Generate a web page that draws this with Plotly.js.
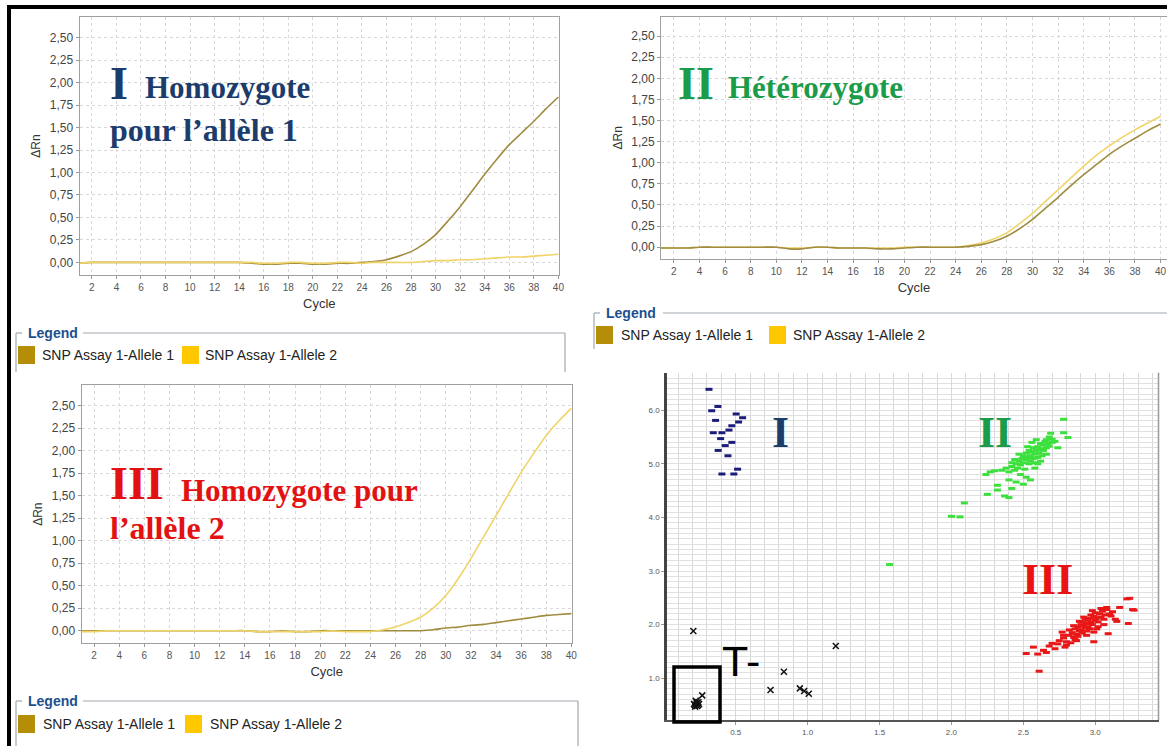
<!DOCTYPE html>
<html>
<head>
<meta charset="utf-8">
<script src="https://cdn.plot.ly/plotly-3.0.1.min.js"></script>
<style>html,body{margin:0;padding:0;background:#fff;}#chart{width:1167px;height:746px;}</style>
</head>
<body>
<div id="chart"></div>
<script>
// ---------- DATA ----------
const cycles = [1,2,3,4,5,6,7,8,9,10,11,12,13,14,15,16,17,18,19,20,21,22,23,24,25,26,27,28,29,30,31,32,33,34,35,36,37,38,39,40];

// Panel I : homozygote allele 1
const p1Allele1 = [-0.01,0,0,0,0,0,0,0,0,0,0,0,0,0,-0.01,-0.02,-0.02,-0.01,-0.01,-0.02,-0.02,-0.01,-0.01,0,0.01,0.03,0.07,0.12,0.20,0.31,0.46,0.62,0.80,0.98,1.15,1.31,1.44,1.57,1.71,1.84];
const p1Allele2 = [-0.01,0,0,0,0,0,0,0,0,0,0,0,0,0,0,-0.01,-0.01,0,0,-0.01,-0.01,0,0,-0.01,0,0,0,0,0.01,0.02,0.02,0.03,0.03,0.04,0.05,0.06,0.06,0.07,0.08,0.09];

// Panel II : heterozygote
const p2Allele1 = [-0.01,-0.01,-0.01,0,0,0,0,0,0,0,-0.02,-0.02,0,0,-0.01,-0.01,-0.01,-0.02,-0.02,-0.01,0,0,0,0,0.01,0.03,0.07,0.13,0.22,0.33,0.46,0.59,0.73,0.86,0.98,1.10,1.20,1.29,1.38,1.46];
const p2Allele2 = [-0.01,-0.01,-0.01,0,0,0,0,0,0,0,-0.01,-0.01,0,0,-0.01,-0.01,-0.01,-0.01,-0.01,0,0,0,0,0,0.02,0.05,0.10,0.17,0.28,0.40,0.54,0.68,0.82,0.96,1.09,1.20,1.30,1.39,1.47,1.55];

// Panel III : homozygote allele 2
const p3Allele1 = [0,0,0,0,0,0,0,0,0,0,0,0,0,0,-0.01,-0.01,0,-0.01,-0.01,0,0,0,0,0,0,0,0,0,0.01,0.03,0.04,0.06,0.07,0.09,0.11,0.13,0.15,0.17,0.18,0.19];
const p3Allele2 = [-0.01,-0.01,0,0,0,0,0,0,0,0,0,0,0,0,-0.01,-0.01,-0.01,-0.01,-0.01,-0.01,0,-0.01,-0.01,-0.01,0.01,0.04,0.09,0.15,0.25,0.39,0.58,0.80,1.04,1.28,1.52,1.76,1.97,2.17,2.33,2.47];

const seriesNames = ["SNP Assay 1-Allele 1","SNP Assay 1-Allele 2"];
const dRnTickVals = [0,0.25,0.5,0.75,1,1.25,1.5,1.75,2,2.25,2.5];
const dRnTickText = ["0,00","0,25","0,50","0,75","1,00","1,25","1,50","1,75","2,00","2,25","2,50"];

// Allelic discrimination scatter
const cluster1X = [0.314,0.376,0.333,0.503,0.548,0.360,0.520,0.473,0.453,0.344,0.404,0.395,0.473,0.427,0.378,0.446,0.513,0.404,0.487];
const cluster1Y = [6.39,6.07,5.99,5.93,5.86,5.81,5.78,5.71,5.63,5.58,5.58,5.47,5.40,5.34,5.25,5.15,4.90,4.81,4.81];

const cluster2X = [1.57,2.00,2.06,2.09,2.24,2.27,2.25,2.32,2.32,2.37,2.40,2.42,2.30,2.78,2.78,2.81,2.69,
  2.35,2.38,2.40,2.42,2.44,2.45,2.46,2.47,2.48,2.49,2.50,2.50,2.51,2.52,2.52,2.53,2.54,2.54,2.55,2.55,2.56,2.57,2.57,2.58,2.58,2.59,2.60,2.60,2.61,2.62,2.62,2.63,2.64,2.64,2.65,2.66,2.66,2.67,2.68,2.68,2.70,2.70,2.72,2.48,2.52,2.55,2.45,2.50,2.40,2.58,2.60,2.53,2.56,2.47,2.44,2.62,2.66,2.74,2.59,2.42];
const cluster2Y = [3.12,4.02,4.01,4.27,4.80,4.85,4.43,4.60,4.51,4.40,4.37,4.54,4.87,5.83,5.58,5.49,5.57,
  4.88,4.92,4.85,4.95,4.88,5.00,4.92,5.05,4.98,5.10,5.02,5.15,4.90,5.08,5.20,5.12,5.00,5.25,5.15,5.05,5.22,5.10,5.30,5.18,5.02,5.25,5.32,5.12,5.20,5.38,5.28,5.15,5.35,5.25,5.42,5.30,5.45,5.38,5.50,5.33,5.46,5.40,5.42,4.80,4.75,4.70,4.66,4.62,4.70,4.92,5.00,5.32,5.40,5.18,5.08,5.05,5.18,5.30,5.45,5.02];

const cluster3X = [3.22,3.26,3.23,3.24,3.27,3.17,3.08,3.09,3.14,2.52,2.57,2.61,2.60,2.64,2.68,2.66,2.70,2.72,2.77,2.99,
  2.75,2.78,2.80,2.82,2.84,2.85,2.86,2.87,2.88,2.89,2.90,2.90,2.91,2.92,2.93,2.93,2.94,2.95,2.95,2.96,2.97,2.97,2.98,2.99,3.00,3.00,3.01,3.02,3.03,3.04,3.05,3.06,3.07,3.08,3.10,3.12,2.80,2.83,2.86,2.88,2.91,2.94,2.96,2.99,3.02,2.78,2.82,2.85,2.89,2.92,2.98,3.04,3.11,2.74,2.79,2.87,2.94,3.01,3.06,3.15];
const cluster3Y = [2.48,2.28,2.02,2.49,2.27,2.32,2.32,1.83,2.10,1.46,1.58,1.13,1.45,1.52,1.60,1.48,1.65,1.55,1.86,1.68,
  1.70,1.75,1.68,1.80,1.85,1.76,1.92,1.82,1.95,1.88,2.00,1.90,2.05,1.98,2.10,1.94,2.02,2.08,1.96,2.12,2.04,2.18,2.00,2.15,2.08,2.22,2.12,2.05,2.20,2.14,2.25,2.10,2.18,2.28,2.20,2.24,1.62,1.66,1.72,1.78,1.84,1.88,1.92,1.86,1.96,1.80,1.90,1.98,2.06,2.14,2.26,2.30,2.16,1.64,1.58,1.70,1.80,1.92,2.00,2.06];

const ntcX = [0.205,1.196,0.835,0.742,0.946,0.976,1.008,0.267,0.228,0.215,0.240,0.222,0.232,0.210,0.245,0.226,0.218,0.238];
const ntcY = [1.88,1.60,1.12,0.78,0.81,0.76,0.71,0.68,0.53,0.50,0.55,0.58,0.48,0.52,0.52,0.56,0.47,0.50];

const clusterLabels = ["I","II","III"];
const panelTitles = [["I","Homozygote","pour l’allèle 1"],["II","Hétérozygote",""],["III","Homozygote pour","l’allèle 2"]];

// ---------- STYLE / LAYOUT ----------
const W = 1167, H = 746;
const px = x => x / W;
const py = y => 1 - y / H;
const cA1 = '#a08c40', cA2 = '#f0d468';
const swA1 = '#b48e08', swA2 = '#ffc800';
const TF = 'Liberation Sans, Arial, sans-serif';
const SERIF = 'Liberation Serif, Times New Roman, serif';

function line(x, y, ax, color, name) {
  return {x: x, y: y, xaxis: ax[0], yaxis: ax[1], type: 'scatter', mode: 'lines', name: name,
          line: {color: color, width: 1.6, shape: 'spline', smoothing: 0.6}, showlegend: false, hoverinfo: 'skip'};
}
const traces = [
  line(cycles, p1Allele1, ['x','y'], cA1, seriesNames[0]),
  line(cycles, p1Allele2, ['x','y'], cA2, seriesNames[1]),
  line(cycles, p2Allele2, ['x2','y2'], cA2, seriesNames[1]),
  line(cycles, p2Allele1, ['x2','y2'], cA1, seriesNames[0]),
  line(cycles, p3Allele1, ['x3','y3'], cA1, seriesNames[0]),
  line(cycles, p3Allele2, ['x3','y3'], cA2, seriesNames[1]),
];
function pts(x, y, color) {
  return {x: x, y: y, xaxis: 'x4', yaxis: 'y4', type: 'scatter', mode: 'markers', showlegend: false,
          marker: {symbol: 'line-ew', size: 5, line: {width: 3, color: color}}, hoverinfo: 'skip', cliponaxis: false};
}
traces.push(pts(cluster1X, cluster1Y, '#1c1c7a'));
traces.push(pts(cluster2X, cluster2Y, '#3ce03c'));
traces.push(pts(cluster3X, cluster3Y, '#e81818'));
traces.push({x: ntcX, y: ntcY, xaxis: 'x4', yaxis: 'y4', type: 'scatter', mode: 'markers', showlegend: false,
  marker: {symbol: 'x-thin', size: 6, line: {width: 1.5, color: '#111'}}, hoverinfo: 'skip'});

function cycAxis(x0, x1, anchor, xmax) {
  return {domain: [px(x0), px(x1)], anchor: anchor, range: [1, xmax], tick0: 0, dtick: 2,
    showline: true, linecolor: '#a0a0a0', mirror: true, ticks: 'outside', ticklen: 3, tickcolor: '#999',
    showgrid: true, gridcolor: '#d8d8d8', griddash: 'dot', zeroline: false,
    tickfont: {family: TF, size: 10, color: '#555'},
    title: {text: 'Cycle', font: {family: TF, size: 13, color: '#333'}, standoff: 6}};
}
function rnAxis(y0, y1, anchor) {
  return {domain: [py(y1), py(y0)], anchor: anchor, range: [-0.14, 2.73],
    tickvals: dRnTickVals, ticktext: dRnTickText,
    showline: true, linecolor: '#a0a0a0', mirror: true, ticks: 'outside', ticklen: 3, tickcolor: '#999',
    showgrid: true, gridcolor: '#d8d8d8', griddash: 'dot', zeroline: false,
    tickfont: {family: TF, size: 12, color: '#444'},
    title: {text: 'ΔRn', font: {family: TF, size: 12, color: '#333'}, standoff: 6}};
}

const layout = {
  width: W, height: H, margin: {l: 0, r: 0, t: 0, b: 0},
  paper_bgcolor: '#ffffff', plot_bgcolor: '#ffffff', showlegend: false,
  xaxis: cycAxis(79.6, 559, 'y', 40.05), yaxis: rnAxis(17, 275, 'x'),
  xaxis2: cycAxis(661, 1167, 'y2', 40.5), yaxis2: rnAxis(16.7, 259, 'x2'),
  xaxis3: cycAxis(81.5, 572, 'y3', 40.05), yaxis3: rnAxis(385, 643.3, 'x3'),
  xaxis4: {domain: [px(666.7), px(1158.5)], anchor: 'y4', range: [0.02, 3.44], tick0: 0, dtick: 0.5, tickformat: '.1f',
    showline: true, linecolor: '#555', linewidth: 2, ticks: 'outside', ticklen: 3, tickcolor: '#999',
    showgrid: true, gridcolor: '#d8d8d8', gridwidth: 1, zeroline: false,
    minor: {dtick: 0.1, showgrid: true, gridcolor: '#d8d8d8', gridwidth: 1},
    tickfont: {family: TF, size: 8, color: '#555'}},
  yaxis4: {domain: [py(720), py(372.7)], anchor: 'x4', range: [0.22, 6.7], tick0: 0, dtick: 1, tickformat: '.1f',
    showline: true, linecolor: '#444', linewidth: 2.5, ticks: 'outside', ticklen: 3, tickcolor: '#999',
    showgrid: true, gridcolor: '#e0e0e0', gridwidth: 1, zeroline: false,
    minor: {dtick: 0.1, showgrid: true, gridcolor: '#e0e0e0', gridwidth: 1},
    tickfont: {family: TF, size: 8, color: '#555'}},
  shapes: [], annotations: []
};

// right border of scatter
layout.shapes.push({type: 'line', xref: 'paper', yref: 'paper', x0: px(1158.5), x1: px(1158.5), y0: py(372.7), y1: py(720), line: {color: '#999', width: 1.5}});

// Legend boxes
function legendBox(xl, xr, yTop, yBot, labelX, labelEnd) {
  const lc = '#9fa8b0';
  layout.shapes.push({type: 'line', xref: 'paper', yref: 'paper', x0: px(xl), x1: px(xl + 6), y0: py(yTop), y1: py(yTop), line: {color: lc, width: 1.2}});
  layout.shapes.push({type: 'line', xref: 'paper', yref: 'paper', x0: px(labelEnd + 5), x1: px(xr), y0: py(yTop), y1: py(yTop), line: {color: lc, width: 1.2}});
  layout.shapes.push({type: 'line', xref: 'paper', yref: 'paper', x0: px(xl), x1: px(xl), y0: py(yTop), y1: py(yBot), line: {color: lc, width: 1.2}});
  if (xr < W - 2) layout.shapes.push({type: 'line', xref: 'paper', yref: 'paper', x0: px(xr), x1: px(xr), y0: py(yTop), y1: py(yBot), line: {color: lc, width: 1.2}});
  layout.annotations.push({xref: 'paper', yref: 'paper', x: px(labelX), y: py(yTop), xanchor: 'left', yanchor: 'middle', showarrow: false,
    text: '<b>Legend</b>', font: {family: TF, size: 14, color: '#1d4f8f'}});
}
function legendItems(y, sw1x, t1x, sw2x, t2x) {
  layout.shapes.push({type: 'rect', xref: 'paper', yref: 'paper', x0: px(sw1x), x1: px(sw1x + 17), y0: py(y + 9), y1: py(y - 9), fillcolor: swA1, line: {width: 0}});
  layout.shapes.push({type: 'rect', xref: 'paper', yref: 'paper', x0: px(sw2x), x1: px(sw2x + 17), y0: py(y + 9), y1: py(y - 9), fillcolor: swA2, line: {width: 0}});
  layout.annotations.push({xref: 'paper', yref: 'paper', x: px(t1x), y: py(y), xanchor: 'left', yanchor: 'middle', showarrow: false, text: seriesNames[0], font: {family: TF, size: 14, color: '#222'}});
  layout.annotations.push({xref: 'paper', yref: 'paper', x: px(t2x), y: py(y), xanchor: 'left', yanchor: 'middle', showarrow: false, text: seriesNames[1], font: {family: TF, size: 14, color: '#222'}});
}
legendBox(16, 565, 333, 372, 26, 78); legendItems(355, 18, 40, 182, 203);
legendBox(594, 1170, 313, 349, 604, 658); legendItems(335, 596, 619, 769, 791);
legendBox(16, 578, 701, 746, 26, 78); legendItems(724, 18, 41, 185, 208);

// Panel titles
function panelTitle(t, color, bigX, bigY, wordX, wordY, line2Y) {
  layout.annotations.push({xref: 'paper', yref: 'paper', x: px(bigX), y: py(bigY), xanchor: 'left', yanchor: 'middle', showarrow: false,
    text: '<b>' + t[0] + '</b>', font: {family: SERIF, size: 46, color: color}});
  layout.annotations.push({xref: 'paper', yref: 'paper', x: px(wordX), y: py(wordY), xanchor: 'left', yanchor: 'middle', showarrow: false,
    text: '<b>' + t[1] + '</b>', font: {family: SERIF, size: 31, color: color}});
  if (t[2]) layout.annotations.push({xref: 'paper', yref: 'paper', x: px(bigX), y: py(line2Y), xanchor: 'left', yanchor: 'middle', showarrow: false,
    text: '<b>' + t[2] + '</b>', font: {family: SERIF, size: 32, color: color}});
}
panelTitle(panelTitles[0], '#1c3c6c', 108, 84, 143, 88, 130);
panelTitle(panelTitles[1], '#1a9c4a', 676, 84, 726, 88, 0);
panelTitle(panelTitles[2], '#e21212', 108, 483, 179, 490, 528);

// Cluster labels on scatter
const clPos = [[780, 432, '#1c3c6c'], [995, 432, '#1a9c4a'], [1047, 579, '#e81414']];
clPos.forEach((p, i) => layout.annotations.push({xref: 'paper', yref: 'paper', x: px(p[0]), y: py(p[1]), xanchor: 'center', yanchor: 'middle', showarrow: false,
  text: '<b>' + clusterLabels[i] + '</b>', font: {family: SERIF, size: 44, color: p[2]}}));

// NTC marker box and label
layout.shapes.push({type: 'rect', xref: 'paper', yref: 'paper', x0: px(674), x1: px(720), y0: py(722), y1: py(667), line: {color: '#000', width: 3.5}});
layout.annotations.push({xref: 'paper', yref: 'paper', x: px(720), y: py(661), xanchor: 'left', yanchor: 'middle', showarrow: false,
  text: 'T-', font: {family: TF, size: 43, color: '#000'}});

// Outer black frame
layout.shapes.push({type: 'rect', xref: 'paper', yref: 'paper', x0: px(7), x1: px(1167), y0: py(9), y1: py(5), fillcolor: '#000', line: {width: 0}});
layout.shapes.push({type: 'rect', xref: 'paper', yref: 'paper', x0: px(7), x1: px(11), y0: py(746), y1: py(5), fillcolor: '#000', line: {width: 0}});

Plotly.newPlot('chart', traces, layout, {staticPlot: true, displayModeBar: false});
</script>
</body>
</html>
